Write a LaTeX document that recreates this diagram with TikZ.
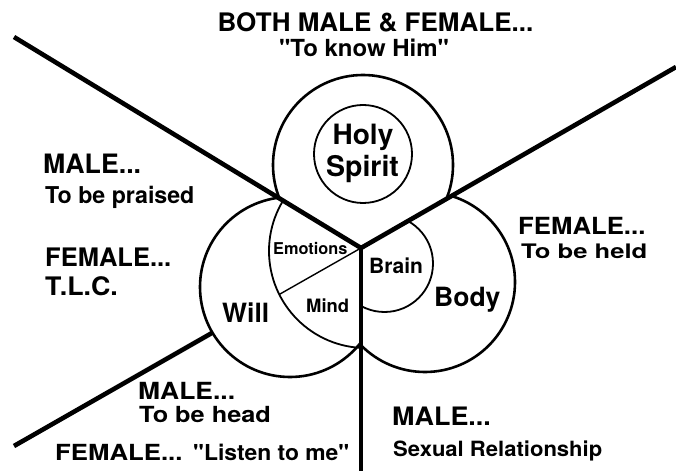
\documentclass[tikz,border=0pt]{standalone}
\usepackage{fontspec}
\newfontfamily\hv{TeX Gyre Heros}
\usepackage{graphicx}
\usetikzlibrary{calc}
\newcommand\hx[2]{\scalebox{#1}[1]{#2}}
\begin{document}
\begin{tikzpicture}[x=1pt,y=1pt,
  lab/.style={inner sep=0pt, anchor=base west, font=\hv\bfseries\fontsize{#1}{#1}\selectfont},
  bar/.style={line width=4.6pt},
  ring/.style={line width=2.6pt},
  fine ring/.style={line width=1.8pt},
  divider/.style={line width=1.4pt}]
\useasboundingbox (0,0) rectangle (676,471);
% key points
\coordinate (C) at (361,223);
\coordinate (L) at (14,434);
\coordinate (R) at (676,404);
\coordinate (B) at (361,0);
\coordinate (LLend) at (14,25);
\coordinate (hs) at (363,306);
\coordinate (will) at (290,184);
\coordinate (body) at (425,189);
\coordinate (soul) at (366,220);
\coordinate (brain) at (384.5,207.5);
\coordinate (wl) at ($(will)+(210.5:90pt)$);
\coordinate (dv) at ($(soul)+(206.6:97pt)$);
% upper wedge
\begin{scope}
\clip (C) -- (-333,645) -- (-333,900) -- (991,900) -- (991,585) -- cycle;
\draw[ring] (hs) circle (90pt);
\end{scope}
\draw[fine ring] (363,317) circle (49pt);
% left wedge
\begin{scope}
\clip (C) -- (-333,645) -- (-333,-300) -- (361,-300) -- cycle;
\draw[ring] (will) circle (90pt);
\draw[fine ring] (soul) circle (97pt);
\end{scope}
\draw[divider] (C) -- (dv);
% right wedge
\begin{scope}
\clip (C) -- (991,585) -- (991,-300) -- (361,-300) -- cycle;
\draw[ring] (body) circle (90pt);
\draw[fine ring] (brain) circle (48.5pt);
\end{scope}
% dividing lines
\draw[bar, line join=round] (L) -- (C) -- (R);
\draw[bar] (C) -- (B);
\draw[bar] (wl) -- (LLend);
% labels
\node[lab=25.5, anchor=base] (t1) at (375.5,439) {\hx{1.02}{BOTH MALE \& FEMALE...}};
\node[lab=23.5, anchor=base] (t2) at (364,414) {\hx{1.02}{"To know Him"}};
\node[lab=28, anchor=base] (holy) at (363,326) {Holy};
\node[lab=28.5, anchor=base] (spirit) at (362.5,294) {Spirit};
\node[lab=16.3] (emo) at (273,216) {Emotions};
\node[lab=21] (brn) at (369,197) {Brain};
\node[lab=18.4] (mind) at (306,158) {Mind};
\node[lab=26.5] (wil) at (222,149) {Will};
\node[lab=26.5] (bod) at (434,164) {Body};
\node[lab=26.7] (m1) at (43,297) {MALE...};
\node[lab=23.2] (m1t) at (45,267) {To be praised};
\node[lab=25.5] (f1) at (45,204) {FEMALE...};
\node[lab=25.5] (f1t) at (45,175) {\hx{1.05}{T.L.C.}};
\node[lab=23.6] (f2) at (518,236) {\hx{1.09}{FEMALE...}};
\node[lab=20] (f2t) at (521,212) {\hx{1.28}{To be held}};
\node[lab=23.6] (m3) at (138,72) {\hx{1.12}{MALE...}};
\node[lab=22.2] (m3t) at (139,49) {\hx{1.14}{To be head}};
\node[lab=22.2] (f3) at (55,11) {\hx{1.16}{FEMALE...}};
\node[lab=22] (f3t) at (193,11) {\hx{1.04}{"Listen to me"}};
\node[lab=25.4] (m4) at (392,46) {\hx{1.06}{MALE...}};
\node[lab=21] (m4t) at (393,15) {\hx{1.05}{Sexual Relationship}};
\end{tikzpicture}
\end{document}
